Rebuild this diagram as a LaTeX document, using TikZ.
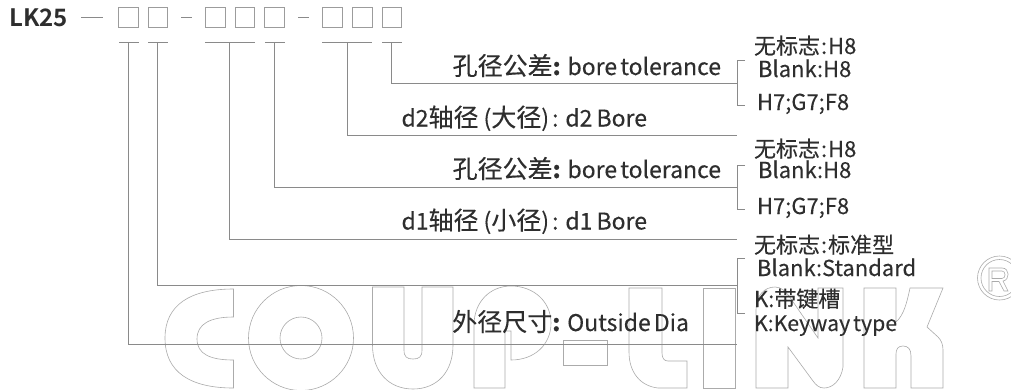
\documentclass[tikz,border=0pt]{standalone}
\usepackage{fontspec}
\setmainfont{Noto Sans CJK SC}[FakeBold=0.2]
\newfontfamily\boldf{Noto Sans CJK SC Bold}
\newcommand{\fs}[1]{\fontsize{#1}{#1}\selectfont}
\newcommand{\cj}[1]{{\fs{25}#1}}
\definecolor{ink}{HTML}{2E2E2E}
\definecolor{wire}{HTML}{8A8A8A}
\definecolor{logo}{HTML}{ABABAB}
\tikzset{
  x=1pt,y=-1pt,
  cell/.style={draw=wire!85,line width=.9pt,minimum width=19.5pt,minimum height=19.5pt,inner sep=0pt,outer sep=0pt},
  wirel/.style={draw=wire,line width=.9pt},
  logol/.style={draw=logo,line width=.6pt},
  lab/.style={anchor=base west,inner sep=0pt,outer sep=0pt,text=ink},
  labr/.style={anchor=base east,inner sep=0pt,outer sep=0pt,text=ink},
}
\begin{document}
\begin{tikzpicture}
\useasboundingbox (0,0) rectangle (1011,389);
\fill[white] (0,0) rectangle (1011,389);
\begin{scope}
\clip (0,0) rectangle (1011,389);
% logo
\draw[logol] (233.5,289) .. controls (190,289) and (165,305) .. (165,338) .. controls (165,372) and (190,388) .. (233.5,388) -- (233.5,360) .. controls (210,360) and (197,354) .. (197,339) .. controls (197,324) and (210,317) .. (233.5,317) -- cycle;
\draw[logol] (301,338) circle (52.5);
\draw[logol] (301,338) circle (21);
\draw[logol] (372.5,287) -- (404,287) -- (404,350) .. controls (404,357) and (407,359) .. (413,359) .. controls (419,359) and (422,357) .. (422,350) -- (422,287) -- (453,287) -- (453,345) .. controls (453,372) and (437,389) .. (413,389) .. controls (389,389) and (372.5,372) .. (372.5,345) -- cycle;
\draw[logol] (474,388) -- (474,325) .. controls (474,302) and (490,286) .. (511,286) .. controls (534,286) and (551,302) .. (551,323) .. controls (551,345) and (534,360) .. (511,360) -- (511,331) -- (505,331) -- (505,388) -- cycle;
\draw[logol] (563,340) rectangle (607,365);
\draw[logol] (629,288) -- (662,288) -- (662,353) .. controls (662,358) and (664,361) .. (668,361) -- (687,361) -- (687,388) -- (658,388) .. controls (640,386) and (629,372) .. (629,352) -- cycle;
\draw[logol] (703,288) rectangle (735,388);
\draw[logol] (756,388) -- (756,310) .. controls (756,296) and (764,287) .. (775,287) .. controls (781,287) and (785,291) .. (789,296) -- (818,338) -- (818,288) -- (843,288) -- (843,367) .. controls (841,380) and (833,388) .. (824,388) .. controls (819,388) and (816,385) .. (813,381) -- (788,347) -- (788,388) -- cycle;
\draw[logol] (864,288) -- (896,288) -- (896,322) .. controls (904,315) and (907,302) .. (910,288) -- (943,288) -- (927,327) -- (938,337) .. controls (941,340) and (943,344) .. (943,350) -- (943,388) -- (911,388) -- (911,356) .. controls (911,349) and (908,346) .. (903,346) .. controls (898,346) and (896,349) .. (896,354) -- (896,388) -- (864,388) -- cycle;
\draw[logol] (999.5,278) circle (22);
\draw[logol] (999.5,278) circle (18.5);
\draw[logol] (989,268) -- (1002,268) .. controls (1010,268) and (1010,280) .. (1003,281) -- (1008,291) -- (1004,291) -- (999,281.5) -- (992,281.5) -- (992,291) -- (989,291) -- cycle;
\draw[logol] (992,271) -- (1002,271) .. controls (1006,271) and (1006,278.5) .. (1002,278.5) -- (992,278.5) -- cycle;
\end{scope}
% header
\node[lab,font=\boldf\fs{24}] (lk) at (9.5,26) {LK25};
\node[cell] (b1) at (128.5,17.5) {};
\node[cell] (b2) at (158,17.5) {};
\node[cell] (b3) at (215.5,17.5) {};
\node[cell] (b4) at (245,17.5) {};
\node[cell] (b5) at (274.5,17.5) {};
\node[cell] (b6) at (332.5,17.5) {};
\node[cell] (b7) at (362.5,17.5) {};
\node[cell] (b8) at (392,17.5) {};
\coordinate (dm0a) at (81,17.5); \coordinate (dm0b) at (103,17.5);
\coordinate (dm1a) at (181,17.5); \coordinate (dm1b) at (192,17.5);
\coordinate (dm2a) at (298,17.5); \coordinate (dm2b) at (309,17.5);
\draw[wirel] (dm0a) -- (dm0b);
\draw[wirel] (dm1a) -- (dm1b);
\draw[wirel] (dm2a) -- (dm2b);
% underlines
\foreach \n/\a/\b in {1/119/138.5,2/148/168,3/205/254.5,4/265/284.5,5/322/371.5,6/382/401.5}{
  \coordinate (ua\n) at (\a,42); \coordinate (ub\n) at (\b,42);
  \draw[wirel] (ua\n) -- (ub\n);
}
\coordinate (s1) at (128.5,42); \coordinate (e1) at (737,344);
\coordinate (s2) at (157.5,42); \coordinate (e2) at (737,285.5);
\coordinate (s3) at (229.5,42); \coordinate (e3) at (737,239);
\coordinate (s4) at (274.5,42); \coordinate (e4) at (737,187);
\coordinate (s5) at (347,42);   \coordinate (e5) at (737,135);
\coordinate (s6) at (391,42);   \coordinate (e6) at (737,83);
\foreach \n in {1,...,6}{\draw[wirel] (s\n) |- (e\n);}
% brackets
\foreach \t/\u/\v in {60/105/a,165/209/b,258.5/313/c}{
  \coordinate (bt\v) at (745,\t); \coordinate (bb\v) at (745,\u);
  \draw[wirel] (bt\v) -- (737,\t) -- (737,\u) -- (bb\v);
}
% labels
\node[labr,font=\fs{23}] (t1) at (721,75) {\cj{孔径公差}\textbf{:} bore\hspace{-2pt} tolerance};
\node[labr,font=\fs{23}] (t2) at (647,126.5) {d2\cj{轴径}\hspace{5pt}(\cj{大径})\hspace{3pt}: d2\hspace{-1pt} Bore};
\node[labr,font=\fs{23}] (t3) at (721,178) {\cj{孔径公差}\textbf{:} bore\hspace{-2pt} tolerance};
\node[labr,font=\fs{23}] (t4) at (647,229.5) {d1\cj{轴径}\hspace{5pt}(\cj{小径})\hspace{3pt}: d1\hspace{-1pt} Bore};
\node[labr,font=\fs{23}] (t5) at (689,331) {\cj{外径尺寸}\textbf{:} Outside\hspace{-2pt} Dia};
\node[lab,font=\fs{22}] (r1) at (754,54) {无标志\hspace{1pt}:\hspace{1pt}H8};
\node[lab,font=\fs{22}] (r2) at (758,77) {Blank:H8};
\node[lab,font=\fs{22}] (r3) at (757,110) {H7;G7;F8};
\node[lab,font=\fs{22}] (r4) at (754,157) {无标志\hspace{1pt}:\hspace{1pt}H8};
\node[lab,font=\fs{22}] (r5) at (758,178) {Blank:H8};
\node[lab,font=\fs{22}] (r6) at (757,214) {H7;G7;F8};
\node[lab,font=\fs{22}] (r7) at (754,253) {无标志\hspace{1pt}:\hspace{1pt}标准型};
\node[lab,font=\fs{22}] (r8) at (757,276) {Blank:Standard};
\node[lab,font=\fs{22}] (r9) at (754,307) {K:带键槽};
\node[lab,font=\fs{21.3}] (r10) at (754,331) {K:Keyway\hspace{-2pt} type};
\end{tikzpicture}
\end{document}
